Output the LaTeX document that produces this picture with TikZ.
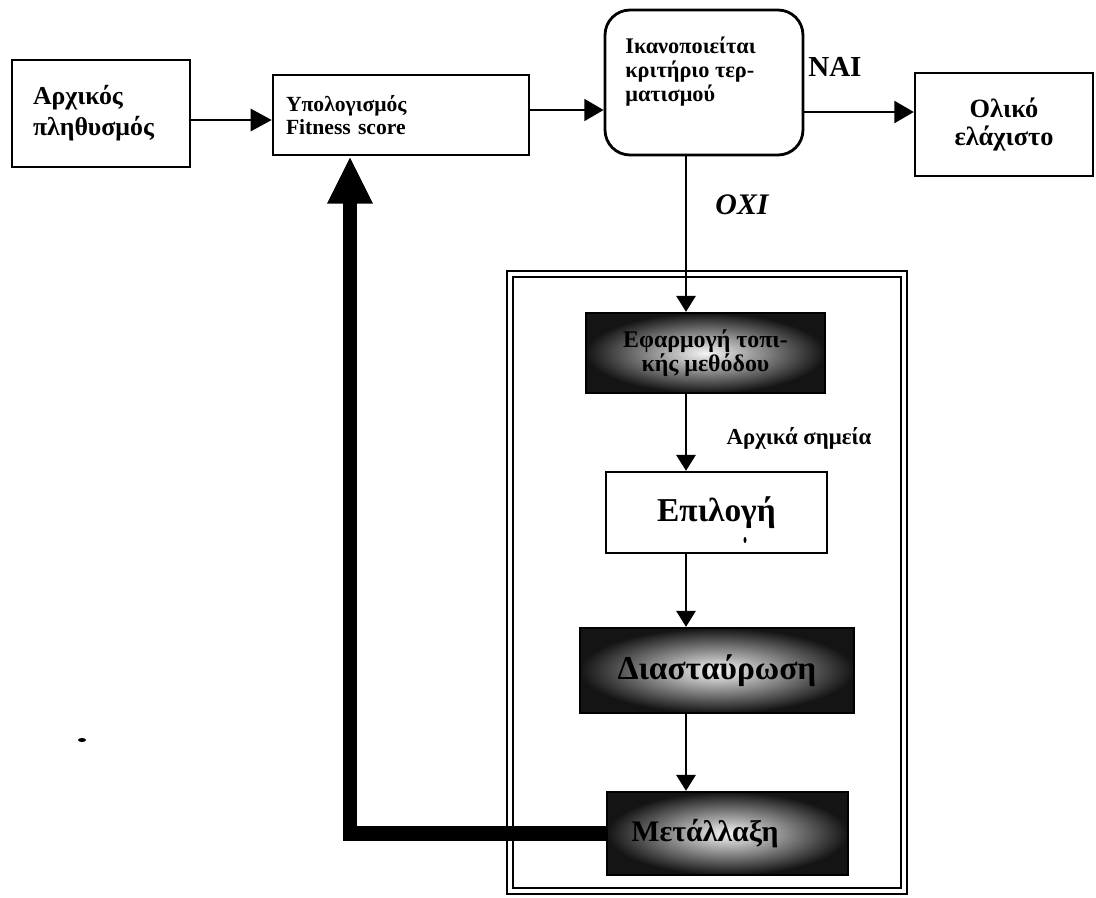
\documentclass[tikz,border=0pt]{standalone}
\usepackage{fontspec}
\setmainfont{Liberation Serif}
\usetikzlibrary{arrows.meta,calc}
\begin{document}
\begin{tikzpicture}[x=0.02cm,y=-0.02cm,
  plainbox/.style={draw, line width=1.4pt, rectangle, inner sep=0pt},
  darkbox/.style={draw, line width=1.4pt, rectangle, inner sep=0pt, inner color=gray!8, outer color=black!92},
  thinarr/.style={line width=0.85pt, -{Triangle[length=9pt,width=11pt]}},
  medarr/.style={line width=1.2pt, -{Triangle[length=11pt,width=12.5pt]}},
  fatarr/.style={line width=8pt, -{Triangle[length=27pt,width=24pt]}},
  txt/.style={inner sep=0pt, font=\bfseries},
]
\useasboundingbox (0,0) rectangle (1096,897);

% frame (double line)
\draw[line width=1.6pt] (507,271) rectangle (907,894);
\draw[line width=1.1pt] (513,277) rectangle (901,888);

% top row
\node[plainbox, minimum width=3.56cm, minimum height=2.14cm, inner xsep=0.42cm,
      text width=2.72cm, align=left, font=\fontsize{14.7}{17.6}\selectfont\bfseries]
      (init) at (101,113.5) {Αρχικός\\πληθυσμός};
\node[plainbox, minimum width=5.12cm, minimum height=1.6cm, inner xsep=0.26cm,
      text width=4.6cm, align=left, font=\fontsize{12.3}{13.5}\selectfont\bfseries]
      (fit) at (401,115) {Υπολογισμός\\Fitness score};
\node[draw, line width=1.6pt, rounded corners=0.5cm, minimum width=3.96cm, minimum height=2.9cm]
      (crit) at (704,82.5) {};
\node[txt, anchor=north west, align=left, font=\fontsize{12.7}{13.4}\selectfont\bfseries]
      (crittxt) at (625,37) {Ικανοποιείται\\κριτήριο τερ-\\ματισμού};
\node[plainbox, minimum width=3.56cm, minimum height=2.06cm, align=center,
      font=\fontsize{15}{16}\selectfont\bfseries]
      (glob) at (1004,124.5) {Ολικό\\ελάχιστο};

% inner flow
\node[darkbox, minimum width=4.78cm, minimum height=1.6cm, align=center,
      font=\fontsize{13.6}{13.6}\selectfont\bfseries]
      (local) at (705.5,353) {Εφαρμογή τοπι-\\κής μεθόδου};
\node[plainbox, minimum width=4.42cm, minimum height=1.62cm,
      font=\fontsize{19}{20}\selectfont\bfseries]
      (sel) at (716.5,512.5) {Επιλογή};
\node[darkbox, minimum width=5.48cm, minimum height=1.7cm,
      font=\fontsize{19}{20}\selectfont\bfseries]
      (cross) at (717,670.5) {Διασταύρωση};
\node[darkbox, minimum width=4.82cm, minimum height=1.66cm,
      font=\fontsize{17}{18}\selectfont\bfseries]
      (mut) at (727.5,833.5) {\hspace*{-0.9cm}Μετάλλαξη};

% labels
\node[txt, anchor=west, font=\fontsize{16.5}{17}\selectfont\bfseries] (nai) at (808,67) {NAI};
\node[txt, font=\fontsize{17}{18}\selectfont\bfseries\itshape] (oxi) at (742,205) {OXI};
\node[txt, font=\fontsize{13}{14}\selectfont\bfseries] (initpts) at (799,438) {Αρχικά σημεία};

% column coordinates and connector start points
\coordinate (colx) at (686,0);
\coordinate (fbx) at (350,0);
\coordinate (s1) at ($(init.east)+(0,6.5)$);
\coordinate (s2) at ($(fit.east)+(0,-5)$);
\coordinate (s3) at ($(crit.east)+(0,29.5)$);

% connectors
\draw[line width=1.6pt, -{Triangle[length=12pt,width=12.5pt]}] (s1) -- (s1 -| fit.west);
\draw[medarr] (s2) -- (s2 -| crit.west);
\draw[medarr] (s3) -- (s3 -| glob.west);
\draw[thinarr] (crit.south -| colx) -- (local.north -| colx);
\draw[thinarr] (local.south -| colx) -- (sel.north -| colx);
\draw[thinarr] (sel.south -| colx) -- (cross.north -| colx);
\draw[thinarr] (cross.south -| colx) -- (mut.north -| colx);
\draw[fatarr] (mut.west) -| (fit.south -| fbx);

% scan specks
\fill (82,740) ellipse (4 and 2);
\fill (745,540) ellipse (1.5 and 3);
\end{tikzpicture}
\end{document}
